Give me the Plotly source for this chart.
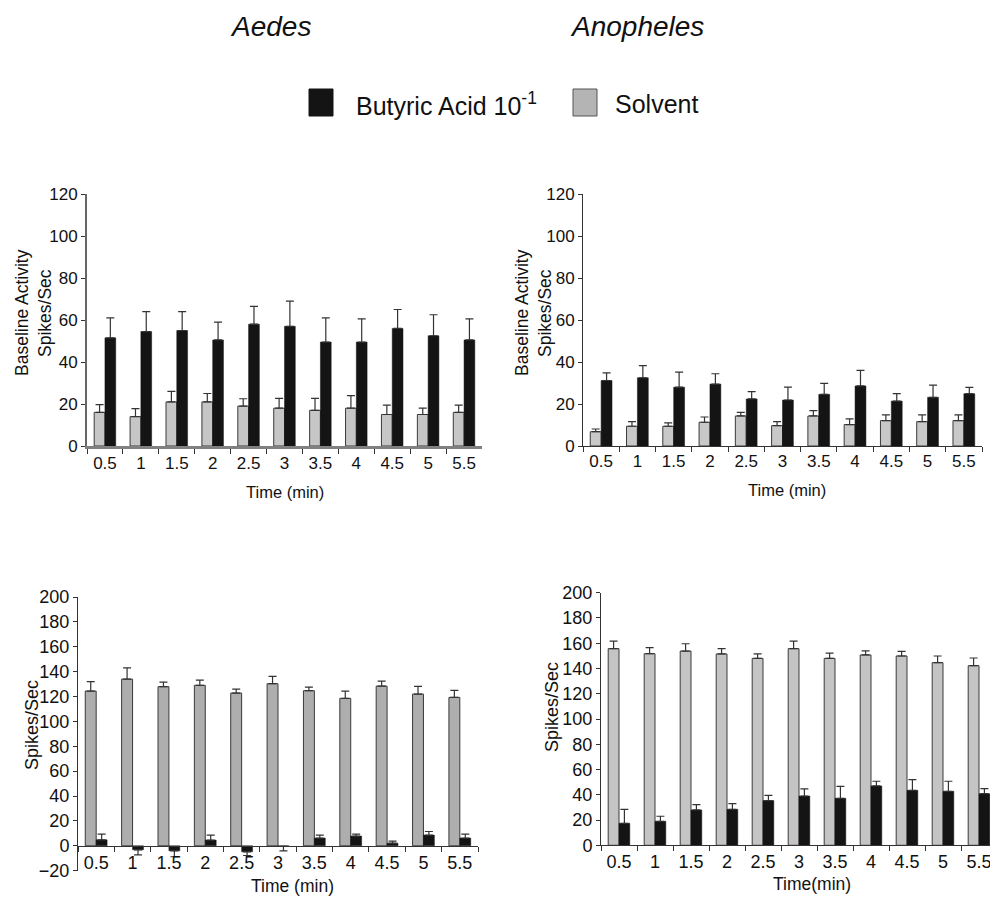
import plotly.graph_objects as go

# ---------------- data ----------------
times = ["0.5", "1", "1.5", "2", "2.5", "3", "3.5", "4", "4.5", "5", "5.5"]

aedes_base_butyric = [51.5, 54.5, 55, 50.5, 58, 57, 49.5, 49.5, 56, 52.5, 50.5]
aedes_base_butyric_err = [9.5, 9.5, 9, 8.5, 8.5, 12, 11.5, 11, 9, 10, 10]
aedes_base_solvent = [16, 14, 21, 21, 19, 18, 17, 18, 15, 15, 16]
aedes_base_solvent_err = [3.7, 3.8, 5, 4, 3.5, 4.7, 5.7, 6, 4.5, 3, 3.5]

anoph_base_butyric = [31.2, 32.5, 28, 29.5, 22.4, 21.9, 24.6, 28.6, 21.4, 23.2, 24.9]
anoph_base_butyric_err = [3.6, 5.8, 7.2, 4.9, 3.5, 6.1, 5.2, 7.4, 3.5, 5.8, 3]
anoph_base_solvent = [6.8, 9.4, 9.4, 11.3, 14.3, 9.7, 14.3, 10.2, 12.1, 11.6, 12.1]
anoph_base_solvent_err = [1.3, 2.2, 1.6, 2.5, 1.7, 1.9, 2.5, 2.7, 2.7, 3.2, 2.7]

aedes_resp_solvent = [124.4, 134, 127.9, 129, 122.8, 130.3, 124.7, 118.5, 128.4, 122, 119.3]
aedes_resp_solvent_err = [7.5, 9, 3.7, 4.2, 3.2, 5.9, 2.9, 5.9, 4, 6.2, 5.7]
aedes_resp_butyric = [4.8, -3.2, -4, 4.6, -4.8, -0.5, 6.2, 7.8, 2.1, 8.6, 6.2]
aedes_resp_butyric_err = [4.6, 4, 4.8, 4, 3, 3.5, 2.4, 1.6, 1.7, 2.9, 3.2]

anoph_resp_solvent = [155.7, 151.7, 153.8, 151.5, 148, 155.7, 148, 150.7, 149.9, 144.6, 142.2]
anoph_resp_solvent_err = [6, 4.8, 5.8, 4.2, 3.5, 6, 4.2, 3.3, 3.7, 5.3, 6.1]
anoph_resp_butyric = [17.4, 19, 28, 28.5, 35.4, 39, 37.2, 47, 43.5, 42.7, 40.9]
anoph_resp_butyric_err = [11.1, 4, 4.2, 4.5, 4.2, 5.6, 9.5, 3.7, 8.5, 8, 4]

series_names = ["Butyric Acid 10<sup>-1</sup>", "Solvent"]
col_titles = ["Aedes", "Anopheles"]

# page has an 8px body margin: figure drawn at (8, 8)
OFF = 8
W, H = 990, 891
FONT = "Liberation Sans, Arial, Helvetica, sans-serif"
BLACK = "#141414"


def px_x(p):
    return (p - OFF) / W


def px_y(p):
    return 1 - (p - OFF) / H


def one_sided(vals, errs):
    up = [e if v >= 0 else 0 for v, e in zip(vals, errs)]
    dn = [e if v < 0 else 0 for v, e in zip(vals, errs)]
    return dict(type="data", symmetric=False, array=up, arrayminus=dn,
                color="#333333", thickness=1.2, width=4)


fig = go.Figure()

panels = [
    ("x", "y", aedes_base_solvent, aedes_base_solvent_err,
     aedes_base_butyric, aedes_base_butyric_err, "#c6c6c6"),
    ("x2", "y2", anoph_base_solvent, anoph_base_solvent_err,
     anoph_base_butyric, anoph_base_butyric_err, "#c8c8c8"),
    ("x3", "y3", aedes_resp_solvent, aedes_resp_solvent_err,
     aedes_resp_butyric, aedes_resp_butyric_err, "#aeaeae"),
    ("x4", "y4", anoph_resp_solvent, anoph_resp_solvent_err,
     anoph_resp_butyric, anoph_resp_butyric_err, "#c4c4c4"),
]

for xa, ya, sv, se, bv, be, grey in panels:
    fig.add_trace(go.Bar(
        x=times, y=sv, name="Solvent", xaxis=xa, yaxis=ya,
        marker=dict(color=grey, line=dict(color="#3a3a3a", width=1)),
        error_y=one_sided(sv, se), showlegend=False,
    ))
    fig.add_trace(go.Bar(
        x=times, y=bv, name="Butyric Acid 10-1", xaxis=xa, yaxis=ya,
        marker=dict(color=BLACK, line=dict(color=BLACK, width=0.5)),
        error_y=one_sided(bv, be), showlegend=False,
    ))


def xaxis(domain, anchor, size, lc="#333333", lw=1, position=None):
    d = dict(domain=domain, type="category", showline=True, linecolor=lc,
             linewidth=lw, ticks="outside", ticklen=5, tickcolor="#333333",
             tickson="boundaries", showgrid=False, zeroline=False,
             tickfont=dict(size=size, color="#111111"), fixedrange=True)
    if position is None:
        d["anchor"] = anchor
    else:
        d["anchor"] = "free"
        d["position"] = position
    return d


def yaxis(domain, anchor, rng, dtick, size, lc="#333333", lw=1):
    return dict(domain=domain, anchor=anchor, range=rng, dtick=dtick,
                showline=True, linecolor=lc, linewidth=lw, ticks="outside",
                ticklen=4, tickcolor="#333333", showgrid=False,
                zeroline=False, tickfont=dict(size=size, color="#111111"),
                fixedrange=True)


top_y = [px_y(446), px_y(194)]
bl_y = [px_y(870.7), px_y(597)]
br_y = [px_y(845.3), px_y(592.7)]

fig.update_layout(
    xaxis=xaxis([px_x(87), px_x(482)], "y", 17, lc="#808080", lw=2.5),
    yaxis=yaxis(top_y, "x", [0, 120], 20, 17, lc="#666666", lw=2),
    xaxis2=xaxis([px_x(583), px_x(982)], "y2", 17),
    yaxis2=yaxis(top_y, "x2", [0, 120], 20, 17),
    xaxis3=xaxis([px_x(78), px_x(478)], "y3", 18, position=px_y(846)),
    yaxis3=yaxis(bl_y, "x3", [-20, 200], 20, 18),
    xaxis4=xaxis([px_x(601), px_x(997)], "y4", 18),
    yaxis4=yaxis(br_y, "x4", [0, 200], 20, 18),
    barmode="group", bargap=0.4, bargroupgap=0,
)

ann = []


def add_text(text, x, y, size, angle=0, italic=False, xanchor="center"):
    ann.append(dict(
        text=("<i>%s</i>" % text) if italic else text,
        x=px_x(x), y=px_y(y), xref="paper", yref="paper",
        xanchor=xanchor, yanchor="middle", showarrow=False,
        textangle=angle, font=dict(family=FONT, size=size, color="#111111"),
    ))


add_text(col_titles[0], 270, 26, 28, italic=True)
add_text(col_titles[1], 637, 26, 28, italic=True)

add_text("Baseline Activity", 22, 313, 17.5, angle=-90)
add_text("Spikes/Sec", 45, 313, 17.5, angle=-90)
add_text("Baseline Activity", 522, 313, 17.5, angle=-90)
add_text("Spikes/Sec", 545, 313, 17.5, angle=-90)
add_text("Spikes/Sec", 32, 725, 18, angle=-90)
add_text("Spikes/Sec", 552, 707, 18, angle=-90)

add_text("Time (min)", 285, 492, 16.5)
add_text("Time (min)", 787, 490, 16.5)
add_text("Time (min)", 292, 886, 17.5)
add_text("Time(min)", 812, 884, 17.5)

add_text(series_names[0], 354, 104, 25, xanchor="left")
add_text(series_names[1], 613, 104, 25, xanchor="left")

shapes = [
    dict(type="rect", xref="paper", yref="paper",
         x0=px_x(309), x1=px_x(333), y0=px_y(116), y1=px_y(89),
         fillcolor=BLACK, line=dict(color=BLACK, width=1)),
    dict(type="rect", xref="paper", yref="paper",
         x0=px_x(573), x1=px_x(597), y0=px_y(116), y1=px_y(89),
         fillcolor="#b4b4b4", line=dict(color="#555555", width=1)),
]

fig.update_layout(
    width=W, height=H,
    margin=dict(l=0, r=0, t=0, b=0, autoexpand=False),
    paper_bgcolor="white", plot_bgcolor="white",
    font=dict(family=FONT, color="#111111"),
    annotations=ann, shapes=shapes, showlegend=False,
)

fig.write_html("out.html")
